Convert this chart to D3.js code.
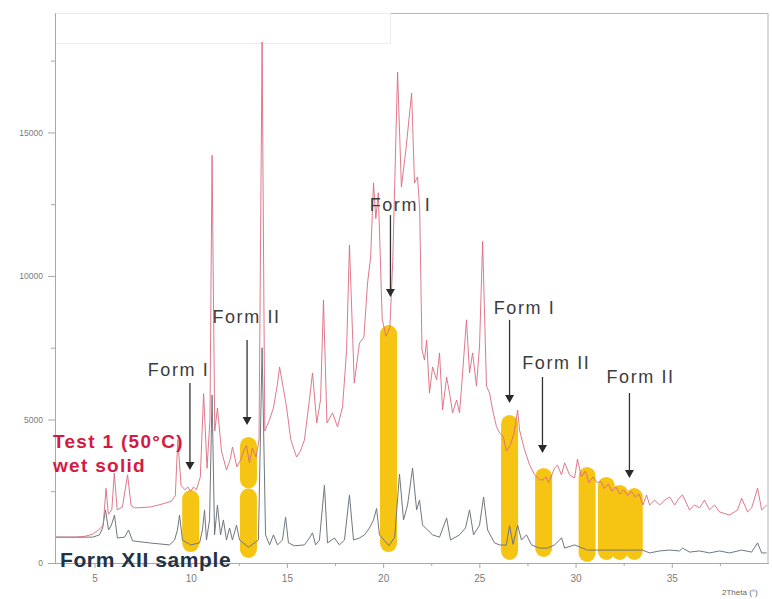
<!DOCTYPE html>
<html>
<head>
<meta charset="utf-8">
<script src="https://cdn.jsdelivr.net/npm/d3@7"></script>
<style>
  html, body { margin: 0; padding: 0; background: #fff; }
  svg { display: block; font-family: "Liberation Sans", Arial, sans-serif; }
</style>
</head>
<body>
<svg id="chart" width="772" height="599"></svg>
<script>
// Powder XRD patterns: 2Theta (deg) vs intensity (counts)

// Test 1 (50°C) wet solid
const testTheta = [3.0,4.0,4.5,4.9,5.2,5.45,5.6,5.72,5.9,6.03,6.18,6.45,6.72,6.9,7.1,7.9,8.5,9.0,9.2,9.33,9.5,9.7,9.85,10.0,10.15,10.3,10.5,10.67,10.85,11.0,11.11,11.25,11.39,11.6,11.86,12.05,12.17,12.4,12.6,12.75,12.9,13.05,13.2,13.4,13.55,13.71,13.85,14.1,14.3,14.5,14.62,14.98,15.2,15.5,15.7,15.91,16.17,16.33,16.55,16.75,16.9,17.08,17.37,17.63,17.89,18.1,18.25,18.5,18.77,19.0,19.19,19.35,19.5,19.62,19.75,19.95,20.15,20.35,20.5,20.75,20.95,21.2,21.48,21.63,21.79,21.9,22.02,22.15,22.26,22.41,22.57,22.78,22.93,23.09,23.3,23.45,23.61,23.82,23.97,24.13,24.33,24.49,24.65,24.85,25.01,25.17,25.37,25.53,25.69,25.89,26.05,26.25,26.4,26.6,26.8,26.99,27.09,27.35,27.61,27.87,28.13,28.3,28.45,28.6,28.91,29.06,29.27,29.43,29.69,29.95,30.1,30.3,30.5,30.7,30.9,31.14,31.3,31.5,31.7,31.9,32.1,32.3,32.5,32.7,32.9,33.1,33.3,33.5,33.69,33.85,34.11,34.37,34.62,34.89,35.15,35.4,35.56,35.92,36.18,36.44,36.7,36.96,37.22,37.48,38.0,38.42,38.63,38.94,39.15,39.46,39.67,39.93];
const testCounts = [900,900,930,1000,1150,1300,2600,1700,1850,3130,1850,1950,3070,2000,1920,1950,2050,2150,2350,4300,2700,2550,2650,2500,2650,2550,3000,5900,3300,5000,14200,4600,5400,3900,3240,3600,4040,3350,3600,3900,4100,3500,4000,3700,4300,18150,4600,5000,5400,6200,6830,5435,4300,3690,3900,4285,5680,6620,4880,5700,9160,4880,5230,4740,5440,7400,11080,6270,7665,7870,9755,10660,13240,12000,12900,8500,7900,8200,10500,17100,13100,14500,16370,13240,13450,12300,7420,7070,7770,5920,6830,6380,7320,5330,6480,5920,5230,5680,5230,6620,8470,6620,7320,6160,7560,11200,6160,5920,5330,4750,4530,4400,3900,4100,4500,5330,4630,3940,3420,3070,2900,2890,3000,2800,3310,3410,3070,3490,3070,2960,3620,3000,3200,2800,3000,2790,2850,2600,2750,2500,2650,2400,2550,2350,2500,2300,2400,2020,2370,2020,2190,2020,2190,2300,2020,2280,2370,1850,2020,1920,2190,1850,2020,1780,1670,1850,2260,1780,1920,2610,1850,2020];

// Form XII sample
const xiiTheta = [3.0,4.9,5.26,5.42,5.57,5.73,5.88,6.04,6.19,6.56,6.77,6.98,7.86,8.9,9.16,9.31,9.42,9.57,10.0,10.46,10.61,10.72,10.82,10.98,11.11,11.24,11.39,11.55,11.7,11.86,12.02,12.17,12.38,12.54,13.0,13.52,13.71,13.89,14.1,14.3,14.51,14.77,14.93,15.08,15.39,15.91,16.17,16.33,16.49,16.69,16.95,17.11,17.47,17.73,17.99,18.25,18.46,18.77,19.03,19.29,19.5,19.66,19.81,20.3,20.6,20.85,21.06,21.27,21.53,21.74,21.89,22.05,22.31,22.57,22.93,23.3,23.5,23.97,24.28,24.49,24.7,25.01,25.22,25.43,25.79,26.05,26.4,26.57,26.75,26.99,27.19,27.45,27.71,28.13,28.54,28.91,29.17,29.27,29.43,29.95,30.21,30.62,31.09,31.61,32.03,32.7,33.48,33.85,34.37,34.89,35.4,35.56,35.92,36.44,36.96,37.48,38.0,38.63,39.15,39.46,39.67,39.93];
const xiiCounts = [900,900,980,1220,1850,1150,1320,1670,870,900,1150,770,700,630,800,1150,1670,800,630,700,1150,1850,800,1500,5850,980,2020,980,1500,800,1220,800,1320,800,550,800,7500,980,630,980,630,800,1600,700,600,630,870,1050,630,800,2710,700,870,630,800,2370,800,870,980,1220,1500,1900,980,600,900,3100,1500,2020,3310,1850,2190,1320,1150,980,900,1570,800,980,1220,1850,980,1320,2300,1150,700,630,620,1300,650,1320,800,980,630,520,520,630,800,880,520,630,560,450,450,450,450,450,450,350,420,450,420,520,380,420,350,420,350,450,380,700,350,350];

// Highlighted reflections (centre 2Theta, low / high counts)
const bandTheta = [10.0, 13.0, 13.0, 20.28, 26.57, 28.34, 30.6, 31.6, 32.3, 33.05];
const bandLow   = [380, 175, 2600, 380, 105, 210, 35, 105, 105, 105];
const bandHigh  = [2540, 2600, 4390, 8290, 5160, 3310, 3345, 3000, 2720, 2610];

// Phase callouts
const calloutText      = ["Form I", "Form II", "Form I", "Form I", "Form II", "Form II"];
const calloutArrowAt   = [9.96, 12.93, 20.38, 26.57, 28.28, 32.8];
const calloutArrowFrom = [6270, 7770, 12120, 8470, 6480, 5920];
const calloutArrowTo   = [3240, 4810, 9270, 5570, 3830, 2960];
const calloutLabelAt   = [9.37, 12.9, 20.9, 27.35, 29.0, 33.38];
const calloutLabelY    = [6720, 8570, 12470, 8880, 6970, 6480];

// Axis ticks
const xMajor = [5, 10, 15, 20, 25, 30, 35];
const xMinor = [7.5, 12.5, 17.5, 22.5, 27.5, 32.5, 37.5];
const yMajor = [0, 5000, 10000, 15000];
const yMinor = [2500, 7500, 12500, 17500];

const svg = d3.select("#chart");
const plotL = 56, plotR = 768, plotT = 13, plotB = 563;

const x = d3.scaleLinear().domain([3, 40]).range([plotL, plotR]);
const y = d3.scaleLinear().domain([0, 19160]).range([plotB, plotT]);

// frame and header strip
svg.append("rect")
  .attr("x", plotL - 0.5).attr("y", plotT + 0.5)
  .attr("width", plotR - plotL + 0.5).attr("height", plotB - plotT)
  .attr("fill", "none").attr("stroke", "#b5b5b5").attr("stroke-width", 1);
svg.append("rect")
  .attr("x", plotL - 0.5).attr("y", plotT + 0.5)
  .attr("width", 335).attr("height", 30)
  .attr("fill", "none").attr("stroke", "#ececec").attr("stroke-width", 1);

// axes
const axisColor = "#a8a8a8";
function styleAxis(g, fontSize) {
  g.select(".domain").attr("stroke", axisColor);
  g.selectAll(".tick line").attr("stroke", axisColor);
  g.selectAll(".tick text").attr("fill", "#7a7a7a")
    .style("font-family", "'Liberation Sans', Arial, sans-serif")
    .style("font-size", fontSize + "px");
}
const gy = svg.append("g").attr("transform", `translate(${plotL - 1},0)`)
  .call(d3.axisLeft(y).tickValues(yMajor).tickFormat(d3.format("d"))
    .tickSize(7).tickSizeOuter(0).tickPadding(5));
styleAxis(gy, 8.5);
const gyMinor = svg.append("g").attr("transform", `translate(${plotL - 1},0)`)
  .call(d3.axisLeft(y).tickValues(yMinor).tickSize(4).tickSizeOuter(0).tickFormat(""));
styleAxis(gyMinor, 8.5);

const gx = svg.append("g").attr("transform", `translate(0,${plotB})`)
  .call(d3.axisBottom(x).tickValues(xMajor).tickSize(5).tickSizeOuter(0).tickPadding(7));
styleAxis(gx, 10);
const gxMinor = svg.append("g").attr("transform", `translate(0,${plotB})`)
  .call(d3.axisBottom(x).tickValues(xMinor).tickSize(3).tickSizeOuter(0).tickFormat(""));
styleAxis(gxMinor, 10);

svg.append("text")
  .attr("x", 722).attr("y", 595)
  .attr("fill", "#666").style("font-size", "8px")
  .text("2Theta (°)");

// highlighted reflections
const bandW = 17;
svg.append("g").selectAll("rect")
  .data(bandTheta.map((t, i) => ({ t, lo: bandLow[i], hi: bandHigh[i] })))
  .join("rect")
  .attr("x", d => x(d.t) - bandW / 2)
  .attr("y", d => y(d.hi))
  .attr("width", bandW)
  .attr("height", d => y(d.lo) - y(d.hi))
  .attr("rx", bandW / 2).attr("ry", 9)
  .attr("fill", "#f6c412");

// patterns
const line = d3.line().x(d => x(d[0])).y(d => y(d[1]));
svg.append("path")
  .datum(xiiTheta.map((t, i) => [t, xiiCounts[i]]))
  .attr("d", line)
  .attr("fill", "none").attr("stroke", "#6f7780").attr("stroke-width", 1)
  .attr("stroke-linejoin", "round");
svg.append("path")
  .datum(testTheta.map((t, i) => [t, testCounts[i]]))
  .attr("d", line)
  .attr("fill", "none").attr("stroke", "#db6a7e").attr("stroke-width", 1)
  .attr("stroke-opacity", 0.9).attr("stroke-linejoin", "round");

// callouts
const callouts = calloutText.map((txt, i) => ({
  txt, ax: calloutArrowAt[i], from: calloutArrowFrom[i], to: calloutArrowTo[i],
  lx: calloutLabelAt[i], ly: calloutLabelY[i]
}));
const cg = svg.append("g");
cg.selectAll("line")
  .data(callouts).join("line")
  .attr("x1", d => x(d.ax)).attr("x2", d => x(d.ax))
  .attr("y1", d => y(d.from)).attr("y2", d => y(d.to) - 6)
  .attr("stroke", "#333").attr("stroke-width", 1.3);
cg.selectAll("path")
  .data(callouts).join("path")
  .attr("d", d => {
    const ax = x(d.ax), ty = y(d.to);
    return `M${ax - 4.5},${ty - 8}L${ax + 4.5},${ty - 8}L${ax},${ty}Z`;
  })
  .attr("fill", "#2a2a2a");
cg.selectAll("text")
  .data(callouts).join("text")
  .attr("x", d => x(d.lx)).attr("y", d => y(d.ly))
  .attr("text-anchor", "middle").attr("dominant-baseline", "central")
  .attr("fill", "#3c3c3c")
  .style("font-size", "18px").style("letter-spacing", "1.6px")
  .text(d => d.txt);

// series labels
const lab = svg.append("g");
lab.append("text").attr("x", 53).attr("y", 448)
  .attr("fill", "#d41a42").style("font-size", "19px").style("font-weight", "bold")
  .style("letter-spacing", "1.3px")
  .text("Test 1 (50°C)");
lab.append("text").attr("x", 53).attr("y", 472)
  .attr("fill", "#d41a42").style("font-size", "19px").style("font-weight", "bold")
  .style("letter-spacing", "1.3px")
  .text("wet solid");
lab.append("text").attr("x", 60).attr("y", 567)
  .attr("fill", "#1f3347").style("font-size", "21px").style("font-weight", "bold")
  .style("letter-spacing", "0.6px")
  .text("Form XII sample");
</script>
</body>
</html>
